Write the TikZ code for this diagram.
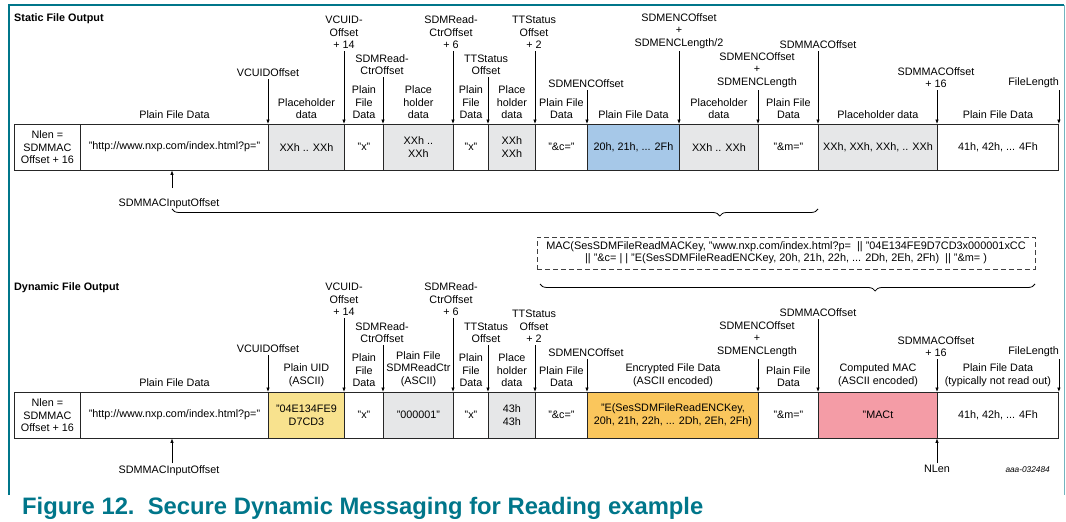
\documentclass[tikz,border=0pt]{standalone}
\usepackage{fontspec}
\setmainfont{Liberation Sans}
\usetikzlibrary{positioning,arrows.meta,decorations.pathreplacing}

\definecolor{nxpteal}{RGB}{0,118,138}
\definecolor{phgray}{RGB}{230,231,232}
\definecolor{encblue}{RGB}{166,200,232}
\definecolor{uidyellow}{RGB}{248,226,142}
\definecolor{encorange}{RGB}{250,198,92}
\definecolor{macpink}{RGB}{244,156,166}

\begin{document}
\begin{tikzpicture}[x=1pt, y=-1pt,
            font=\fontsize{10.8}{12.6}\selectfont,
            cell/.style={draw=black!85, line width=0.9pt, anchor=north west, minimum height=45.5pt, inner sep=0pt, align=center},
            hdr/.style={inner sep=1pt, align=center},
            lbl/.style={inner sep=2pt, align=center, anchor=south},
            ttl/.style={inner sep=0pt, anchor=west, font=\fontsize{10.8}{12.6}\selectfont\bfseries},
            ptr/.style={-{Latex[length=4.5pt,width=3.5pt]}, line width=0.7pt},
            brc/.style={decorate, decoration={brace, mirror, amplitude=7pt, aspect=#1}, line width=0.8pt}]
            \useasboundingbox (0,0) rectangle (1066,522);

            \draw[nxpteal, line width=1.2pt] (9,495) -- (9,5) -- (1064,5);
            \draw[nxpteal!55, line width=1pt] (1064,5) -- (1064,495);

            \node[ttl] (sTitle) at (14,19) {Static File Output};

            \node[cell, minimum width=66pt] (s1) at (14,124) {Nlen =\\SDMMAC\\Offset + 16};
            \node[cell, minimum width=188pt] (s2) at (80,124) {"http://www.nxp.com/index.html?p="};
            \node[cell, minimum width=76pt, fill=phgray] (s3) at (268,124) {XXh .. XXh};
            \node[cell, minimum width=39pt] (s4) at (344,124) {"x"};
            \node[cell, minimum width=70pt, fill=phgray] (s5) at (383,124) {XXh ..\\XXh};
            \node[cell, minimum width=35pt] (s6) at (453,124) {"x"};
            \node[cell, minimum width=47pt, fill=phgray] (s7) at (488,124) {XXh\\XXh};
            \node[cell, minimum width=52pt] (s8) at (535,124) {"\&c="};
            \node[cell, minimum width=92pt, fill=encblue] (s9) at (587,124) {20h, 21h, ... 2Fh};
            \node[cell, minimum width=79pt, fill=phgray] (s10) at (679,124) {XXh .. XXh};
            \node[cell, minimum width=60pt] (s11) at (758,124) {"\&m="};
            \node[cell, minimum width=119pt, fill=phgray] (s12) at (818,124) {XXh, XXh, XXh, .. XXh};
            \node[cell, minimum width=121pt] (s13) at (937,124) {41h, 42h, ... 4Fh};

            \node[hdr, above=4pt of s2] (sh2) {Plain File Data};
            \node[hdr, above=4pt of s3] (sh3) {Placeholder\\data};
            \node[hdr, above=4pt of s4] (sh4) {Plain\\File\\Data};
            \node[hdr, above=4pt of s5] (sh5) {Place\\holder\\data};
            \node[hdr, above=4pt of s6] (sh6) {Plain\\File\\Data};
            \node[hdr, above=4pt of s7] (sh7) {Place\\holder\\data};
            \node[hdr, above=4pt of s8] (sh8) {Plain File\\Data};
            \node[hdr, above=4pt of s9] (sh9) {Plain File Data};
            \node[hdr, above=4pt of s10] (sh10) {Placeholder\\data};
            \node[hdr, above=4pt of s11] (sh11) {Plain File\\Data};
            \node[hdr, above=4pt of s12] (sh12) {Placeholder data};
            \node[hdr, above=4pt of s13] (sh13) {Plain File Data};

            \node[lbl] (sVcuid) at (268,79) {VCUIDOffset};
            \node[lbl] (sVcuid14) at (344,51) {VCUID-\\Offset\\+ 14};
            \node[lbl] (sCtr) at (382,77) {SDMRead-\\CtrOffset};
            \node[lbl] (sCtr6) at (451,51) {SDMRead-\\CtrOffset\\+ 6};
            \node[lbl] (sTts) at (486,77) {TTStatus\\Offset};
            \node[lbl] (sTts2) at (534,51) {TTStatus\\Offset\\+ 2};
            \node[lbl] (sEnc) at (586,90) {SDMENCOffset};
            \node[lbl] (sEncHalf) at (679,51) {SDMENCOffset\\+\\SDMENCLength/2};
            \node[lbl] (sEncLen) at (757,90) {SDMENCOffset\\+\\SDMENCLength};
            \node[lbl] (sMac) at (818,51) {SDMMACOffset};
            \node[lbl] (sMac16) at (936,90) {SDMMACOffset\\+ 16};
            \node[lbl, anchor=south east] (sFileLen) at (1061,90) {FileLength};

            \draw[ptr] (sVcuid.south -| s3.north west) -- (s3.north west);
            \draw[ptr] (sVcuid14.south -| s4.north west) -- (s4.north west);
            \draw[ptr] (sCtr.south -| s5.north west) -- (s5.north west);
            \draw[ptr] (sCtr6.south -| s6.north west) -- (s6.north west);
            \draw[ptr] (sTts.south -| s7.north west) -- (s7.north west);
            \draw[ptr] (sTts2.south -| s8.north west) -- (s8.north west);
            \draw[ptr] (sEnc.south -| s9.north west) -- (s9.north west);
            \draw[ptr] (sEncHalf.south -| s10.north west) -- (s10.north west);
            \draw[ptr] (sEncLen.south -| s11.north west) -- (s11.north west);
            \draw[ptr] (sMac.south -| s12.north west) -- (s12.north west);
            \draw[ptr] (sMac16.south -| s13.north west) -- (s13.north west);
            \draw[ptr] (sFileLen.south -| s13.north east) -- (s13.north east);

            \coordinate (sInTail) at (172,188);
            \draw[ptr] (sInTail) -- (sInTail |- s2.south);
            \node[hdr, below=9pt of sInTail, xshift=-3pt] (sInput) {SDMMACInputOffset};

            \coordinate (macFrom) at (172,209);
            \coordinate (macTo) at (818,209);
            \draw[brc=0.848] (macFrom) -- (macTo);

            \node[draw=black!75, dash pattern=on 5pt off 3pt, line width=1pt, minimum width=498pt, minimum height=32pt, inner sep=2pt, align=center, font=\fontsize{10.9}{12}\selectfont] (macbox) at (786,253)
                {MAC(SesSDMFileReadMACKey, "www.nxp.com/index.html?p=\ \ || "04E134FE9D7CD3x000001xCC\\
                || "\&c= | | "E(SesSDMFileReadENCKey, 20h, 21h, 22h, ... 2Dh, 2Eh, 2Fh)\ \ || "\&m= )};

            \coordinate (encFrom) at (540,284);
            \coordinate (encTo) at (1035,284);
            \draw[brc=0.677] (encFrom) -- (encTo);

            \node[ttl] (dTitle) at (14,288) {Dynamic File Output};

            \node[cell, minimum width=66pt] (d1) at (14,392) {Nlen =\\SDMMAC\\Offset + 16};
            \node[cell, minimum width=188pt] (d2) at (80,392) {"http://www.nxp.com/index.html?p="};
            \node[cell, minimum width=76pt, fill=uidyellow] (d3) at (268,392) {"04E134FE9\\D7CD3};
            \node[cell, minimum width=39pt] (d4) at (344,392) {"x"};
            \node[cell, minimum width=70pt, fill=phgray] (d5) at (383,392) {"000001"};
            \node[cell, minimum width=35pt] (d6) at (453,392) {"x"};
            \node[cell, minimum width=47pt, fill=phgray] (d7) at (488,392) {43h\\43h};
            \node[cell, minimum width=52pt] (d8) at (535,392) {"\&c="};
            \node[cell, minimum width=171pt, fill=encorange] (d9) at (587,392) {"E(SesSDMFileReadENCKey,\\20h, 21h, 22h, ... 2Dh, 2Eh, 2Fh)};
            \node[cell, minimum width=60pt] (d10) at (758,392) {"\&m="};
            \node[cell, minimum width=119pt, fill=macpink] (d11) at (818,392) {"MACt};
            \node[cell, minimum width=121pt] (d12) at (937,392) {41h, 42h, ... 4Fh};

            \node[hdr, above=4pt of d2] (dh2) {Plain File Data};
            \node[hdr, above=4pt of d3] (dh3) {Plain UID\\(ASCII)};
            \node[hdr, above=4pt of d4] (dh4) {Plain\\File\\Data};
            \node[hdr, above=4pt of d5] (dh5) {Plain File\\SDMReadCtr\\(ASCII)};
            \node[hdr, above=4pt of d6] (dh6) {Plain\\File\\Data};
            \node[hdr, above=4pt of d7] (dh7) {Place\\holder\\data};
            \node[hdr, above=4pt of d8] (dh8) {Plain File\\Data};
            \node[hdr, above=4pt of d9] (dh9) {Encrypted File Data\\(ASCII encoded)};
            \node[hdr, above=4pt of d10] (dh10) {Plain File\\Data};
            \node[hdr, above=4pt of d11] (dh11) {Computed MAC\\(ASCII encoded)};
            \node[hdr, above=4pt of d12] (dh12) {Plain File Data\\(typically not read out)};

            \node[lbl] (dVcuid) at (268,355) {VCUIDOffset};
            \node[lbl] (dVcuid14) at (344,318) {VCUID-\\Offset\\+ 14};
            \node[lbl] (dCtr) at (382,345) {SDMRead-\\CtrOffset};
            \node[lbl] (dCtr6) at (451,318) {SDMRead-\\CtrOffset\\+ 6};
            \node[lbl] (dTts) at (486,345) {TTStatus\\Offset};
            \node[lbl] (dTts2) at (534,345) {TTStatus\\Offset\\+ 2};
            \node[lbl] (dEnc) at (586,359) {SDMENCOffset};
            \node[lbl] (dEncLen) at (757,359) {SDMENCOffset\\+\\SDMENCLength};
            \node[lbl] (dMac) at (818,319) {SDMMACOffset};
            \node[lbl] (dMac16) at (936,359) {SDMMACOffset\\+ 16};
            \node[lbl, anchor=south east] (dFileLen) at (1061,359) {FileLength};

            \draw[ptr] (dVcuid.south -| d3.north west) -- (d3.north west);
            \draw[ptr] (dVcuid14.south -| d4.north west) -- (d4.north west);
            \draw[ptr] (dCtr.south -| d5.north west) -- (d5.north west);
            \draw[ptr] (dCtr6.south -| d6.north west) -- (d6.north west);
            \draw[ptr] (dTts.south -| d7.north west) -- (d7.north west);
            \draw[ptr] (dTts2.south -| d8.north west) -- (d8.north west);
            \draw[ptr] (dEnc.south -| d9.north west) -- (d9.north west);
            \draw[ptr] (dEncLen.south -| d10.north west) -- (d10.north west);
            \draw[ptr] (dMac.south -| d11.north west) -- (d11.north west);
            \draw[ptr] (dMac16.south -| d12.north west) -- (d12.north west);
            \draw[ptr] (dFileLen.south -| d12.north east) -- (d12.north east);

            \coordinate (dInTail) at (172,463);
            \draw[ptr] (dInTail) -- (dInTail |- d2.south);
            \node[hdr, below=1pt of dInTail, xshift=-3pt] (dInput) {SDMMACInputOffset};

            \coordinate (nlenTail) at (937,463);
            \draw[ptr] (nlenTail) -- (nlenTail |- d12.south);
            \node[hdr, below=1pt of nlenTail] (nlen) {NLen};

            \node[anchor=east, inner sep=0pt, font=\fontsize{8.3}{10}\selectfont\itshape] (docId) at (1050,470) {aaa-032484};

            \node[anchor=base west, inner sep=0pt, text=nxpteal, font=\fontsize{23.8}{27}\selectfont\bfseries] (caption) at (22,514)
                {Figure 12.\ \ Secure Dynamic Messaging for Reading example};
\end{tikzpicture}
\end{document}
